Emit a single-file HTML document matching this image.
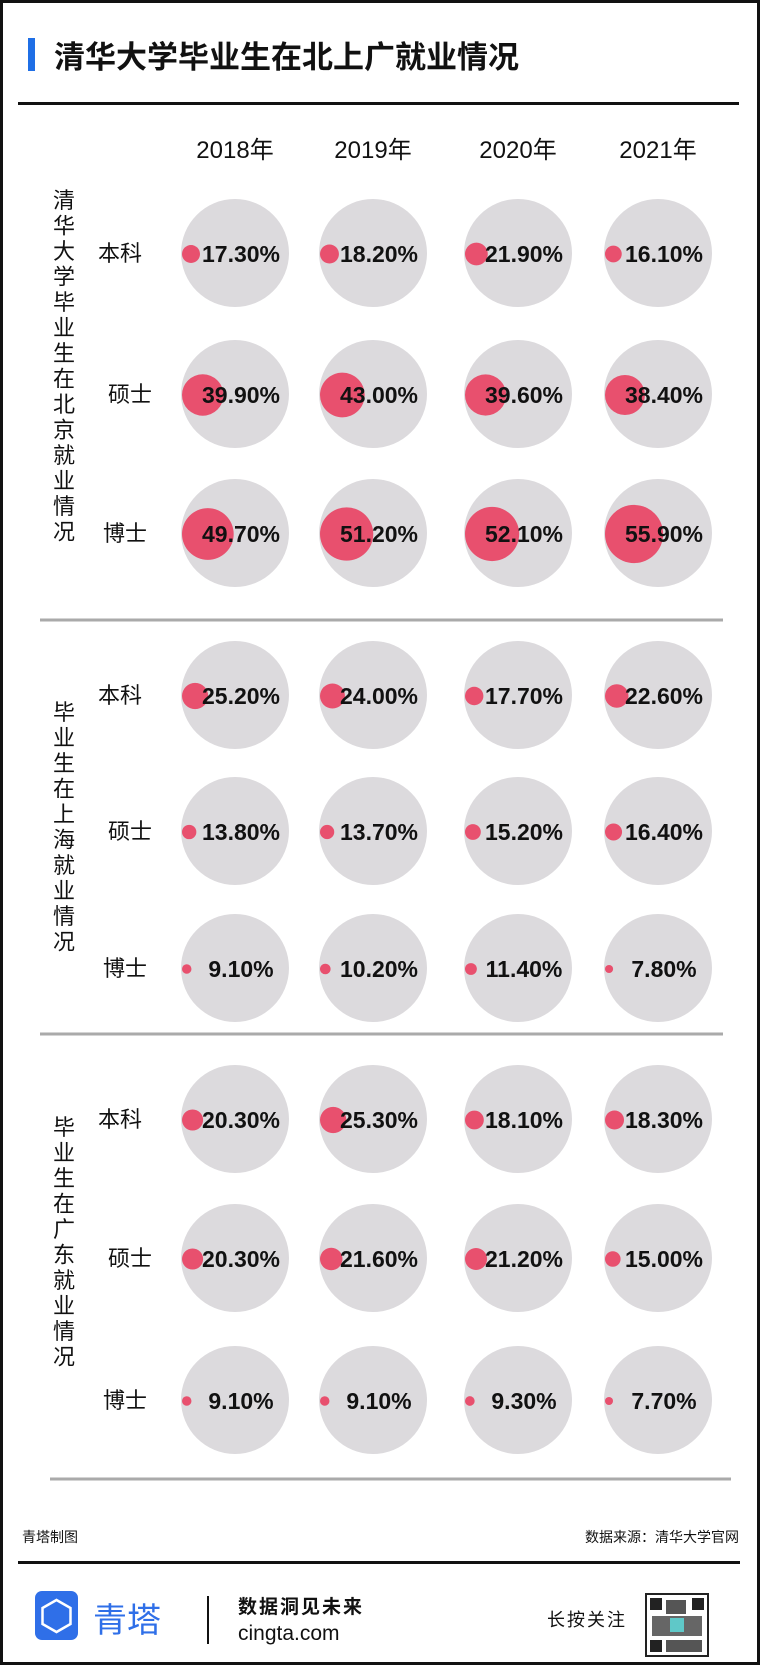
<!DOCTYPE html>
<html><head><meta charset="utf-8"><style>
html,body{margin:0;padding:0;background:#fff}
svg{display:block}
text{font-family:"Liberation Sans","Noto Sans CJK SC",sans-serif}
</style></head><body>
<svg id="chart" width="760" height="1665" viewBox="0 0 760 1665" xmlns="http://www.w3.org/2000/svg">
<rect x="1.5" y="1.5" width="757" height="1662" fill="#fff" stroke="#111" stroke-width="3"/>
<rect x="28" y="38" width="7" height="33" fill="#1f6fe6"/>
<text x="54" y="68" font-size="31" font-weight="bold" fill="#111">清华大学毕业生在北上广就业情况</text>
<rect x="18" y="102" width="721" height="3" fill="#111"/>
<g id="years"></g>
<g id="grid"></g>
<text x="22" y="1542" font-size="14" fill="#111">青塔制图</text>
<text x="739" y="1542" font-size="14" fill="#111" text-anchor="end">数据来源：清华大学官网</text>
<rect x="18" y="1561" width="722" height="3" fill="#111"/>
<rect x="35" y="1591" width="43" height="49" rx="7" fill="#2f6fe8"/>
<path d="M56.5 1600 l14 8 v16 l-14 8 l-14 -8 v-16z" fill="none" stroke="#fff" stroke-width="2.5"/>
<text x="93" y="1632" font-size="34" fill="#2f6fe8">青塔</text>
<rect x="207" y="1596" width="2" height="48" fill="#111"/>
<text x="238" y="1613" font-size="19" font-weight="bold" fill="#111" letter-spacing="2">数据洞见未来</text>
<text x="238" y="1640" font-size="21" fill="#111">cingta.com</text>
<text x="547" y="1626" font-size="18" fill="#111" letter-spacing="2">长按关注</text>
<g>
<rect x="646" y="1594" width="62" height="62" fill="#fff" stroke="#222" stroke-width="2"/>
<rect x="650" y="1598" width="12" height="12" fill="#222"/><rect x="692" y="1598" width="12" height="12" fill="#222"/><rect x="650" y="1640" width="12" height="12" fill="#222"/>
<rect x="666" y="1600" width="20" height="14" fill="#555"/><rect x="652" y="1616" width="50" height="20" fill="#666"/><rect x="666" y="1640" width="36" height="12" fill="#555"/>
<rect x="670" y="1618" width="14" height="14" fill="#5fc8c8"/>
</g>
</svg>
<script>
const years = ["2018年","2019年","2020年","2021年"];
const levels = ["本科","硕士","博士"];
const beijing = [[17.3,18.2,21.9,16.1],[39.9,43.0,39.6,38.4],[49.7,51.2,52.1,55.9]];
const shanghai = [[25.2,24.0,17.7,22.6],[13.8,13.7,15.2,16.4],[9.1,10.2,11.4,7.8]];
const guangdong = [[20.3,25.3,18.1,18.3],[20.3,21.6,21.2,15.0],[9.1,9.1,9.3,7.7]];
const sectionTitles = ["清华大学毕业生在北京就业情况","毕业生在上海就业情况","毕业生在广东就业情况"];

const NS="http://www.w3.org/2000/svg";
const colX = i => [235,373,518,658][i];
const sections = [
 {data:beijing, rows:[253,394,533], titleTop:188, sep:620},
 {data:shanghai, rows:[695,831,968], titleTop:700, sep:1034},
 {data:guangdong, rows:[1119,1258,1400], titleTop:1115, sep:1479}
];
const rScale = v => v*0.52;
const labelX = [120,130,125];
function mk(tag, attrs, parent){const e=document.createElementNS(NS,tag);for(const k in attrs)e.setAttribute(k,attrs[k]);parent.appendChild(e);return e;}
const yg=document.getElementById('years');
years.forEach((y,i)=>{
  const t=mk('text',{x:colX(i),y:158,'font-size':24,'text-anchor':'middle',fill:'#111'},yg);
  
  
  t.textContent=y;
});
const g=document.getElementById('grid');
sections.forEach((s,si)=>{
  const tt=sectionTitles[si];
  const tg=mk('text',{'font-size':22,fill:'#111','text-anchor':'middle'},g);
  
  
  for(let c=0;c<tt.length;c++){const sp=mk('tspan',{x:64,y:s.titleTop+c*25.5+20},tg);sp.textContent=tt[c];}
  s.data.forEach((row,ri)=>{
    const cy=s.rows[ri];
    const lb=mk('text',{x:labelX[ri],y:cy+8,'font-size':22,'text-anchor':'middle',fill:'#111'},g);
    
    
    lb.textContent=levels[ri];
    row.forEach((v,ci)=>{
      const cx=colX(ci);
      const bg=mk('circle',{cx:cx,cy:cy,r:54,fill:'#dcdadd'},g);
      
      
      const r=rScale(v);
      const d=mk('circle',{cx:cx-54+r+1,cy:cy+1,r:r,fill:'#e8506e'},g);
      
      
      const tx=mk('text',{x:cx+6,y:cy+9,'font-size':23,'font-weight':'bold','text-anchor':'middle',fill:'#111'},g);
      
      
      tx.textContent=v.toFixed(2)+'%';
    });
  });
  const sep=mk('rect',{x:si==2?50:40,y:s.sep-1.5,width:si==2?681:683,height:3,fill:'#aaa'},g);
  
  
});
</script>
</body></html>
